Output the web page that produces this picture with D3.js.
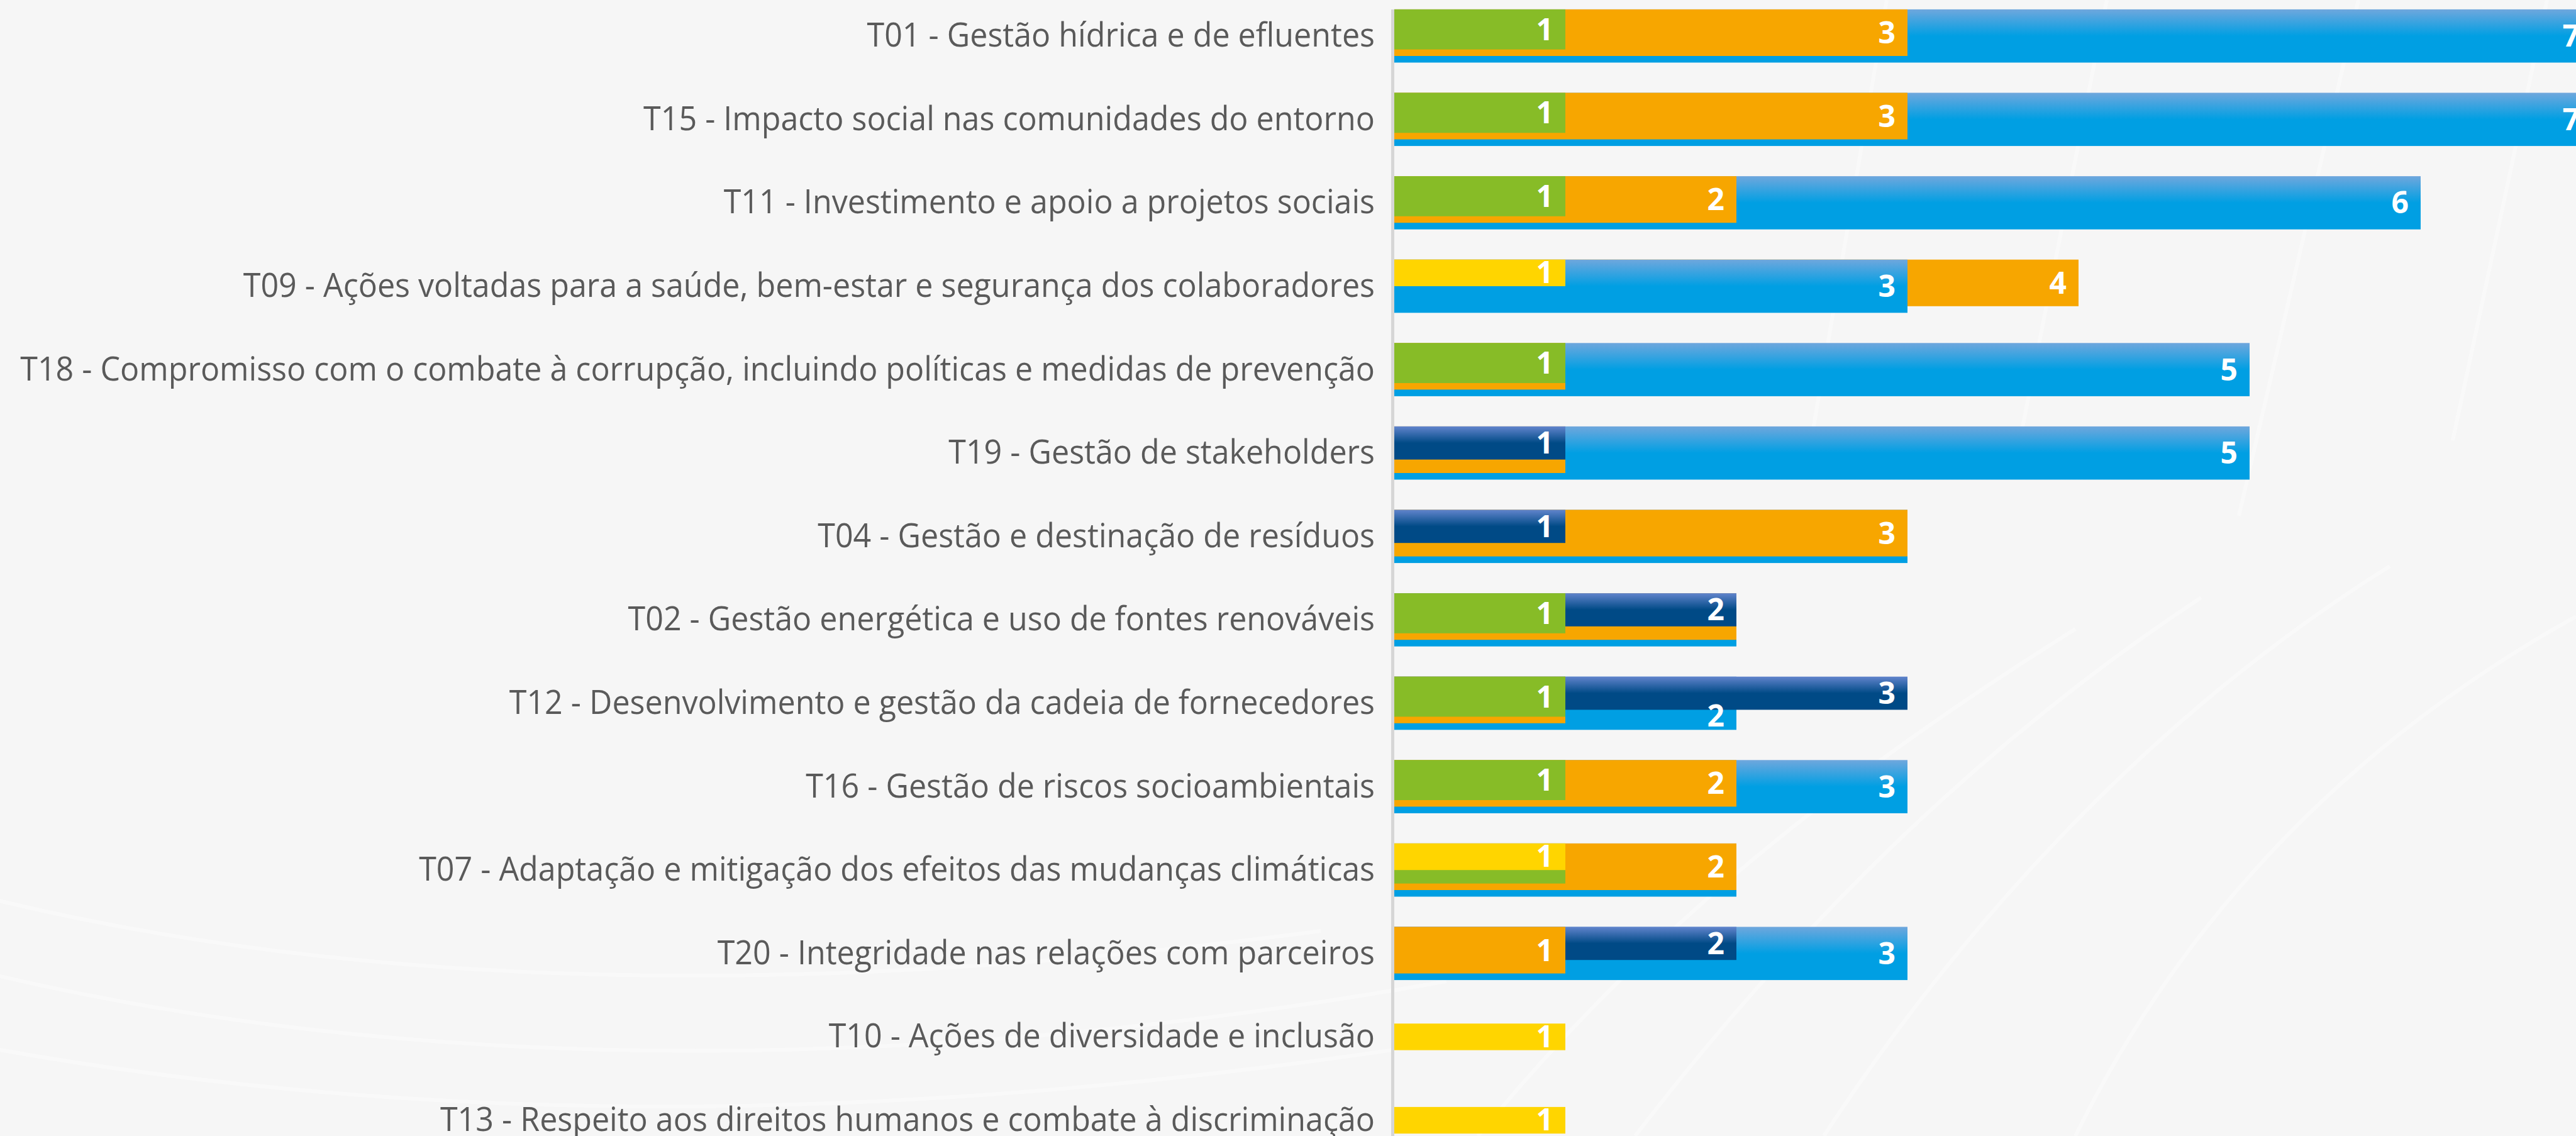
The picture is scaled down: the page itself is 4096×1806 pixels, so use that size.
<!DOCTYPE html>
<html>
<head>
<meta charset="utf-8">
<script src="https://cdn.jsdelivr.net/npm/d3@7"></script>
<style>
  html, body { margin: 0; padding: 0; background: #f6f6f6; overflow: hidden; }
  svg { display: block; }
</style>
</head>
<body>
<svg id="chart"></svg>
<script>
var W = 4096, H = 1806;

// ---- data ----
var categories = [
  "T01 - Gestão hídrica e de efluentes",
  "T15 - Impacto social nas comunidades do entorno",
  "T11 - Investimento e apoio a projetos sociais",
  "T09 - Ações voltadas para a saúde, bem-estar e segurança dos colaboradores",
  "T18 - Compromisso com o combate à corrupção, incluindo políticas e medidas de prevenção",
  "T19 - Gestão de stakeholders",
  "T04 - Gestão e destinação de resíduos",
  "T02 - Gestão energética e uso de fontes renováveis",
  "T12 - Desenvolvimento e gestão da cadeia de fornecedores",
  "T16 - Gestão de riscos socioambientais",
  "T07 - Adaptação e mitigação dos efeitos das mudanças climáticas",
  "T20 - Integridade nas relações com parceiros",
  "T10 - Ações de diversidade e inclusão",
  "T13 - Respeito aos direitos humanos e combate à discriminação"
];
var blue   = [7, 7, 6, 3, 5, 5, 3, 2, 2, 3, 2, 3, null, null];
var orange = [3, 3, 2, 4, 1, 1, 3, 2, 1, 2, 2, 1, null, null];
var green  = [1, 1, 1, null, 1, null, null, 1, 1, 1, 1, null, null, null];
var navy   = [null, null, null, null, null, 1, 1, 2, 3, null, null, 2, null, null];
var yellow = [null, null, null, 1, null, null, null, null, null, null, 1, null, 1, 1];
// back to front, per row
var drawOrder = [
  "blue orange green", "blue orange green", "blue orange green",
  "orange blue yellow", "blue orange green", "blue orange navy",
  "blue orange navy", "blue orange navy green", "blue orange navy green",
  "blue orange green", "blue orange green yellow", "blue navy orange",
  "yellow", "yellow"
];

var seriesValues = { blue: blue, orange: orange, green: green, navy: navy, yellow: yellow };

// ---- styles ----
var thick = { blue: 84.6, orange: 74.1, green: 63.7, navy: 52.7, yellow: 42.3 };
var fills = { blue: "url(#gBlue)", orange: "#f7a600", green: "#87bc27", navy: "url(#gNavy)", yellow: "#ffd500" };

var svg = d3.select("#chart").attr("width", W).attr("height", H);

var defs = svg.append("defs");
function grad(id, top, base) {
  var g = defs.append("linearGradient").attr("id", id)
    .attr("x1", 0).attr("y1", 0).attr("x2", 0).attr("y2", 1);
  g.append("stop").attr("offset", 0).attr("stop-color", top);
  g.append("stop").attr("offset", 0.5).attr("stop-color", base);
  g.append("stop").attr("offset", 1).attr("stop-color", base);
}
grad("gBlue", "#6fa7dd", "#009fe3");
grad("gNavy", "#6184cc", "#004a86");

svg.append("rect").attr("width", W).attr("height", H).attr("fill", "#f6f6f6");

// faint background swooshes
var bg = svg.append("g").attr("fill", "none").attr("stroke", "#ffffff")
  .attr("stroke-opacity", 0.4).attr("stroke-width", 6);
[
  "M-50,1420 C500,1560 1200,1600 2100,1480",
  "M-50,1540 C600,1700 1400,1720 2300,1560",
  "M-50,1660 C700,1800 1500,1790 2400,1640",
  "M2350,1806 C2600,1500 2900,1250 3300,1000",
  "M2600,1806 C2850,1480 3150,1180 3500,950",
  "M2900,1806 C3100,1500 3400,1150 3800,900",
  "M3300,1806 C3450,1500 3700,1200 4096,980",
  "M3000,0 L2880,700", "M3350,0 L3200,760", "M3750,0 L3560,820", "M4050,0 L3900,700"
].forEach(function (p) { bg.append("path").attr("d", p); });

// ---- scales ----
var xScale = d3.scaleLinear().domain([0, 7]).range([2217, 2217 + 7 * 272]);
var yScale = d3.scaleBand().domain(categories).range([-9.1, -9.1 + 14 * 132.6]);

// axis line
svg.append("line")
  .attr("x1", xScale(0) - 2.5).attr("x2", xScale(0) - 2.5)
  .attr("y1", yScale(categories[0]) + yScale.bandwidth() / 2 - thick.blue / 2)
  .attr("y2", H)
  .attr("stroke", "#d6d6d6").attr("stroke-width", 5);

// category labels
var labelG = svg.append("g");
var catText = labelG.selectAll("text").data(categories).enter().append("text")
  .attr("font-family", "'Open Sans', sans-serif")
  .attr("font-size", 52.5)
  .attr("fill", "#5a5a5a")
  .attr("text-anchor", "end")
  .text(function (d) { return d; });
var longest = d3.max(catText.nodes(), function (n) { return n.getComputedTextLength(); });
var sx = 2154 / longest;
catText.attr("transform", function (d) {
  var yc = yScale(d) + yScale.bandwidth() / 2;
  return "translate(2186," + (yc + 17) + ") scale(" + sx + ",1)";
});

// bars
var digitH = 34;
categories.forEach(function (cat, i) {
  var keys = drawOrder[i].split(" ");
  var bars = keys.map(function (k) { return { key: k, value: seriesValues[k][i] }; });
  var maxT = d3.max(bars, function (b) { return thick[b.key]; });
  var top = yScale(cat) + yScale.bandwidth() / 2 - maxT / 2;
  var row = svg.append("g");

  row.selectAll("rect").data(bars).enter().append("rect")
    .attr("x", xScale(0))
    .attr("y", top)
    .attr("width", function (b) { return xScale(b.value) - xScale(0); })
    .attr("height", function (b) { return thick[b.key]; })
    .attr("fill", function (b) { return fills[b.key]; });

  // labels where the bar end is still visible
  var labels = [];
  bars.forEach(function (b, j) {
    var cover = 0;
    bars.slice(j + 1).forEach(function (f) {
      if (f.value >= b.value) cover = Math.max(cover, thick[f.key]);
    });
    var free = thick[b.key] - cover;
    if (free < 26) return;
    var yc = Math.min((cover + thick[b.key]) / 2, thick[b.key] - digitH / 2 - 5);
    labels.push({ value: b.value, y: top + yc });
  });
  row.selectAll("text").data(labels).enter().append("text")
    .attr("x", function (l) { return xScale(l.value) - 19; })
    .attr("y", function (l) { return l.y + digitH / 2; })
    .attr("text-anchor", "end")
    .attr("font-family", "'Open Sans', sans-serif")
    .attr("font-weight", 700)
    .attr("font-size", 48)
    .attr("fill", "#ffffff")
    .text(function (l) { return l.value; });
});
</script>
</body>
</html>
